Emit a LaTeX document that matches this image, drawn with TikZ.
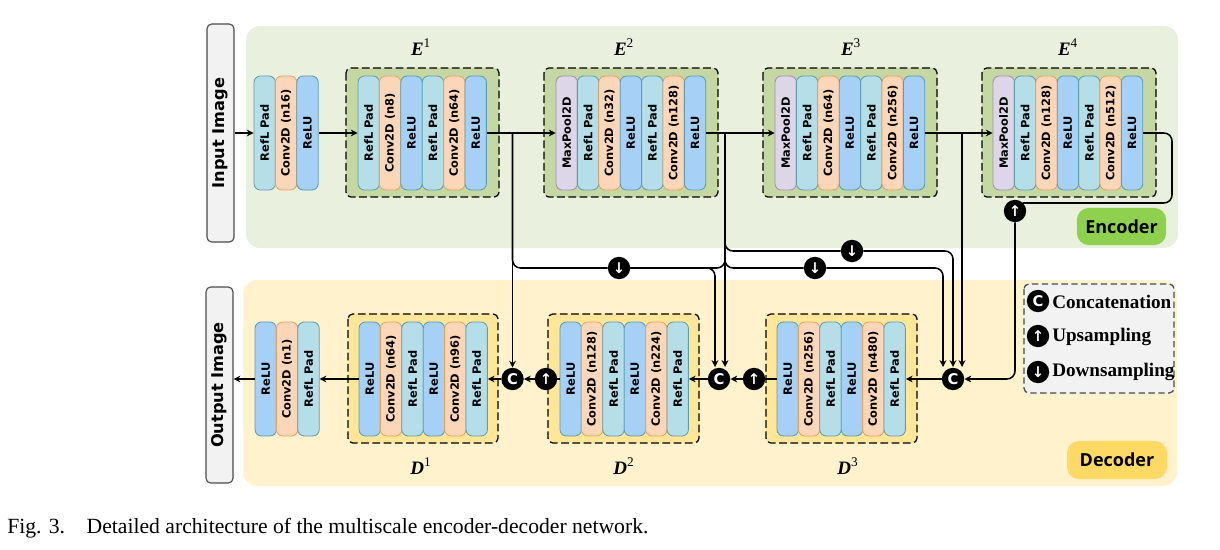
\documentclass[tikz,border=0pt]{standalone}
\usepackage{fontspec}
\setmainfont{Liberation Serif}
\newfontfamily\layerfont{DejaVu Sans}
\newfontfamily\tagfont{Open Sans}
\usetikzlibrary{arrows.meta}
\definecolor{reflfill}{HTML}{B6DEE8}
\definecolor{reflline}{HTML}{5F9EAD}
\definecolor{convfill}{HTML}{FBD6B8}
\definecolor{convline}{HTML}{E8A35C}
\definecolor{relufill}{HTML}{A6D0F5}
\definecolor{reluline}{HTML}{5C9DB5}
\definecolor{poolfill}{HTML}{DDD6E8}
\definecolor{poolline}{HTML}{9C92AB}
\definecolor{encback}{HTML}{E9F0DE}
\definecolor{encbox}{HTML}{C5D8A3}
\definecolor{enctag}{HTML}{8FD14F}
\definecolor{decback}{HTML}{FFF2CC}
\definecolor{decbox}{HTML}{FFE699}
\definecolor{dectag}{HTML}{FFD966}
\tikzset{
  layer/.style={rounded corners=1.6mm,line width=0.6pt,minimum width=2.85cm,minimum height=0.535cm,
    inner sep=0pt,rotate=90,font=\layerfont\bfseries\fontsize{8.1}{9}\selectfont},
  refl/.style={draw=reflline,fill=reflfill},
  conv/.style={draw=convline,fill=convfill},
  relu/.style={draw=reluline,fill=relufill},
  pool/.style={draw=poolline,fill=poolfill},
  group/.style={draw=black,line width=0.9pt,dash pattern=on 5.5pt off 2.5pt,rounded corners=1.2mm},
  io/.style={draw=black!70,fill=black!5,line width=0.8pt,rounded corners=1.2mm},
  wire/.style={line width=1.1pt},
  link/.style={wire,-{Stealth[length=1.7mm,width=1.7mm]}},
  dot/.style={circle,fill=black,text=white,minimum size=0.56cm,inner sep=0pt,font=\layerfont\bfseries\fontsize{10.5}{10.5}\selectfont},
  tag/.style={rounded corners=3mm,font=\tagfont\bfseries\fontsize{12.8}{13}\selectfont},
  stagename/.style={font=\bfseries\itshape\fontsize{13.5}{15}\selectfont},
  legend/.style={anchor=west,inner sep=0pt,font=\bfseries\fontsize{13.6}{15}\selectfont}
}
% one column per layer, #2 = left edge, #3 = middle height
\newcommand{\layerstack}[4]{
  \foreach \kind/\txt [count=\i] in {#4} {
    \node[layer,\kind] (#1-\i) at ({#2+(\i-0.5)*21.4},#3) {\txt};
  }
}
\begin{document}
\begin{tikzpicture}[x=0.025cm,y=-0.025cm]
\useasboundingbox (0,0) rectangle (1220,550);
% backgrounds
\fill[encback,rounded corners=3.5mm] (246,26) rectangle (1178,248);
\fill[decback,rounded corners=3.5mm] (243,280) rectangle (1177,486);
\node[io,rotate=90,minimum width=5.45cm,minimum height=0.675cm,font=\layerfont\bfseries\fontsize{11.5}{12}\selectfont] (input) at (220.5,133) {Input Image};
\node[io,rotate=90,minimum width=4.9cm,minimum height=0.675cm,font=\layerfont\bfseries\fontsize{11.5}{12}\selectfont] (output) at (219.5,385) {Output Image};
% dashed groups
\draw[group,fill=encbox] (346,68) rectangle (499,197);
\draw[group,fill=encbox] (544,68) rectangle (718,197);
\draw[group,fill=encbox] (763,68) rectangle (937,197);
\draw[group,fill=encbox] (982,68) rectangle (1156,197);
\draw[group,fill=decbox] (348,314) rectangle (498,443);
\draw[group,fill=decbox] (548,314) rectangle (699,443);
\draw[group,fill=decbox] (766,314) rectangle (917,443);
% encoder
\layerstack{e0}{254}{133}{refl/RefL Pad,conv/Conv2D (n16),relu/ReLU}
\layerstack{e1}{358}{133}{refl/RefL Pad,conv/Conv2D (n8),relu/ReLU,refl/RefL Pad,conv/Conv2D (n64),relu/ReLU}
\layerstack{e2}{556}{133}{pool/MaxPool2D,refl/RefL Pad,conv/Conv2D (n32),relu/ReLU,refl/RefL Pad,conv/Conv2D (n128),relu/ReLU}
\layerstack{e3}{775}{133}{pool/MaxPool2D,refl/RefL Pad,conv/Conv2D (n64),relu/ReLU,refl/RefL Pad,conv/Conv2D (n256),relu/ReLU}
\layerstack{e4}{993}{133}{pool/MaxPool2D,refl/RefL Pad,conv/Conv2D (n128),relu/ReLU,refl/RefL Pad,conv/Conv2D (n512),relu/ReLU}
% decoder
\layerstack{d0}{255}{379}{relu/ReLU,conv/Conv2D (n1),refl/RefL Pad}
\layerstack{d1}{359}{379}{relu/ReLU,conv/Conv2D (n64),refl/RefL Pad,relu/ReLU,conv/Conv2D (n96),refl/RefL Pad}
\layerstack{d2}{560}{379}{relu/ReLU,conv/Conv2D (n128),refl/RefL Pad,relu/ReLU,conv/Conv2D (n224),refl/RefL Pad}
\layerstack{d3}{777}{379}{relu/ReLU,conv/Conv2D (n256),refl/RefL Pad,relu/ReLU,conv/Conv2D (n480),refl/RefL Pad}
% stage names
\node[stagename] (n1) at (421,47) {E\textsuperscript{\normalfont 1}};
\node[stagename] (n2) at (624,47) {E\textsuperscript{\normalfont 2}};
\node[stagename] (n3) at (851,47) {E\textsuperscript{\normalfont 3}};
\node[stagename] (n4) at (1068,47) {E\textsuperscript{\normalfont 4}};
\node[stagename] (m1) at (421,466) {D\textsuperscript{\normalfont 1}};
\node[stagename] (m2) at (624,466) {D\textsuperscript{\normalfont 2}};
\node[stagename] (m3) at (848,466) {D\textsuperscript{\normalfont 3}};
% tags
\node[tag,fill=enctag,minimum width=2.23cm,minimum height=0.93cm] (enc) at (1121.5,226.5) {Encoder};
\node[tag,fill=dectag,minimum width=2.5cm,minimum height=0.95cm] (dec) at (1117,460) {Decoder};
% circles
\node[dot] (c1) at (512.5,379) {C};
\node[dot] (up1) at (546,379) {↑};
\node[dot] (c2) at (719,379) {C};
\node[dot] (up2) at (754,379) {↑};
\node[dot] (c3) at (953,379) {C};
\node[dot] (up3) at (1015,211) {↑};
\node[dot] (dn1) at (619,268) {↓};
\node[dot] (dn2) at (815,268) {↓};
\node[dot] (dn3) at (852,251) {↓};
\coordinate (b1) at (c1 |- e1-6);
\coordinate (b2) at (725,133);
\coordinate (b3) at (962,133);
\coordinate (r4) at (1172,203);
\coordinate (r5) at (1022.5,203);
\coordinate (c2a) at (715,367);
\coordinate (c2b) at (725,367);
\coordinate (c3a) at (943,367);
\coordinate (c3b) at (953,367);
\coordinate (c3c) at (962,367);
% top row
\draw[link] (input) -- (e0-1);
\draw[link] (e0-3) -- (e1-1);
\draw[link] (e1-6) -- (e2-1);
\draw[link] (e2-7) -- (e3-1);
\draw[link] (e3-7) -- (e4-1);
% skips
\draw[link] (b1) -- (c1);
\draw[link] (b2) -- (c2b);
\draw[link] (b3) -- (c3c);
\draw[wire,rounded corners=2mm] (b1) |- (dn1);
\draw[link,rounded corners=2mm] (dn1) -| (c2a);
\draw[wire,rounded corners=2mm] (dn1) -| (725,250);
\draw[wire,rounded corners=2mm] (b2) |- (dn2);
\draw[link,rounded corners=2mm] (dn2) -| (c3a);
\draw[wire,rounded corners=2mm] (b2) |- (dn3);
\draw[link,rounded corners=2mm] (dn3) -| (c3b);
\draw[wire,rounded corners=2mm] (e4-7) -| (r4) -- (r5);
\draw[link,rounded corners=2mm] (up3) |- (c3);
% bottom row
\draw[link] (c3) -- (d3-6);
\draw[wire] (d3-1) -- (up2);
\draw[link] (up2) -- (c2);
\draw[link] (c2) -- (d2-6);
\draw[wire] (d2-1) -- (up1);
\draw[link] (up1) -- (c1);
\draw[link] (c1) -- (d1-6);
\draw[link] (d1-1) -- (d0-3);
\draw[link] (d0-1) -- (d0-1 -| output.south);
% legend
\draw[fill=black!5,draw=black!70,line width=0.9pt,dash pattern=on 4.5pt off 2.5pt,rounded corners=1.2mm] (1024,284) rectangle (1174,393);
\node[dot] (kc) at (1038,301) {C};
\node[dot] (ku) at (1038,336) {↑};
\node[dot] (kd) at (1038,372) {↓};
\node[legend] (kct) at (1052,302) {Concatenation};
\node[legend] (kut) at (1052,337) {Upsampling};
\node[legend] (kdt) at (1052,372) {Downsampling};
% caption
\node[anchor=base west,inner sep=0pt,font=\fontsize{15.4}{17}\selectfont] (cap) at (7,533) {Fig. 3.\hspace{1em}Detailed architecture of the multiscale encoder-decoder network.};
\end{tikzpicture}
\end{document}
